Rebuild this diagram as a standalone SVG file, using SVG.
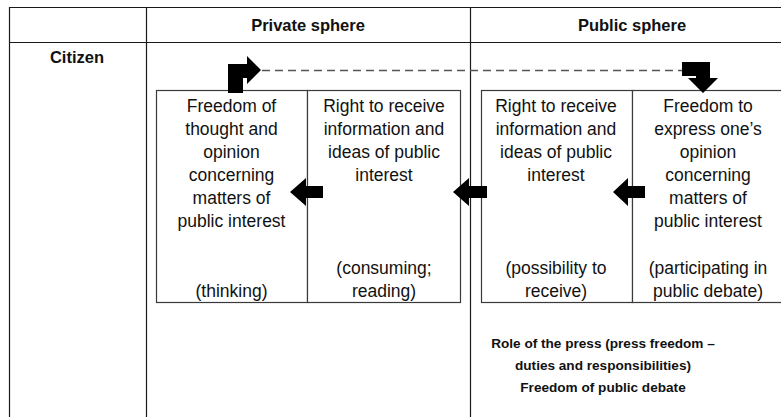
<svg xmlns="http://www.w3.org/2000/svg" width="781" height="417" viewBox="0 0 781 417">
<style>
.grid{stroke:#1a1a1a;stroke-width:1.2;fill:none}
.box{stroke:#3a3a3a;stroke-width:1.2;fill:#fff}
.t{font-family:"Liberation Sans",Arial,sans-serif;font-size:17.5px;fill:#111;text-anchor:middle}
.h{font-family:"Liberation Sans",Arial,sans-serif;font-size:16.5px;font-weight:bold;fill:#111;text-anchor:middle}
.b{font-family:"Liberation Sans",Arial,sans-serif;font-size:13.6px;font-weight:bold;fill:#111;text-anchor:middle}
.arr{fill:#000}
.dash{stroke:#555;stroke-width:1.5;stroke-dasharray:8 5;fill:none}
</style>
<rect width="781" height="417" fill="#fff"/>
<g id="table">
<line class="grid" x1="9.5" y1="7.5" x2="781" y2="7.5"/>
<line class="grid" x1="9.5" y1="42.5" x2="781" y2="42.5"/>
<line class="grid" x1="9.5" y1="7" x2="9.5" y2="417"/>
<line class="grid" x1="146.5" y1="7" x2="146.5" y2="417"/>
<line class="grid" x1="470.5" y1="7" x2="470.5" y2="417"/>
<text class="h" x="308" y="31">Private sphere</text>
<text class="h" x="632" y="31">Public sphere</text>
<text class="h" x="77" y="63">Citizen</text>
</g>
<g id="box-thinking">
<rect class="box" x="156.5" y="90.5" width="151" height="212"/>
<text class="t" x="231.5" y="112">Freedom of</text>
<text class="t" x="231.5" y="135">thought and</text>
<text class="t" x="231.5" y="158">opinion</text>
<text class="t" x="231.5" y="181">concerning</text>
<text class="t" x="231.5" y="204">matters of</text>
<text class="t" x="231.5" y="227">public interest</text>
<text class="t" x="231.5" y="297">(thinking)</text>
</g>
<g id="box-consuming">
<rect class="box" x="307.5" y="90.5" width="153" height="212"/>
<text class="t" x="384" y="112">Right to receive</text>
<text class="t" x="384" y="135">information and</text>
<text class="t" x="384" y="158">ideas of public</text>
<text class="t" x="384" y="181">interest</text>
<text class="t" x="384" y="274">(consuming;</text>
<text class="t" x="384" y="297">reading)</text>
</g>
<g id="box-receive">
<rect class="box" x="481.5" y="90.5" width="151" height="212"/>
<text class="t" x="556" y="112">Right to receive</text>
<text class="t" x="556" y="135">information and</text>
<text class="t" x="556" y="158">ideas of public</text>
<text class="t" x="556" y="181">interest</text>
<text class="t" x="556" y="274">(possibility to</text>
<text class="t" x="556" y="297">receive)</text>
</g>
<g id="box-express">
<rect class="box" x="632.5" y="90.5" width="160" height="212"/>
<text class="t" x="708" y="112">Freedom to</text>
<text class="t" x="708" y="135">express one’s</text>
<text class="t" x="708" y="158">opinion</text>
<text class="t" x="708" y="181">concerning</text>
<text class="t" x="708" y="204">matters of</text>
<text class="t" x="708" y="227">public interest</text>
<text class="t" x="708" y="274">(participating in</text>
<text class="t" x="708" y="297">public debate)</text>
</g>
<g id="press-role">
<text class="b" x="603" y="348">Role of the press (press freedom –</text>
<text class="b" x="603" y="370">duties and responsibilities)</text>
<text class="b" x="603" y="392">Freedom of public debate</text>
</g>
<g id="connectors">
<line class="dash" x1="262" y1="70.5" x2="683" y2="70.5"/>
<polygon class="arr" points="228,93 228,64 247,64 247,56 261,70 247,84 247,78 243,78 243,93"/>
<polygon class="arr" points="682,62 710,62 710,78 718,78 703,93 688,78 696,78 696,76 682,76"/>
<polygon class="arr" points="290,192 306,178 306,186 323,186 323,198 306,198 306,206"/>
<polygon class="arr" points="453,192 469,178 469,186 487,186 487,198 469,198 469,206"/>
<polygon class="arr" points="613,192 628,178 628,186 645,186 645,198 628,198 628,206"/>
</g>
</svg>
